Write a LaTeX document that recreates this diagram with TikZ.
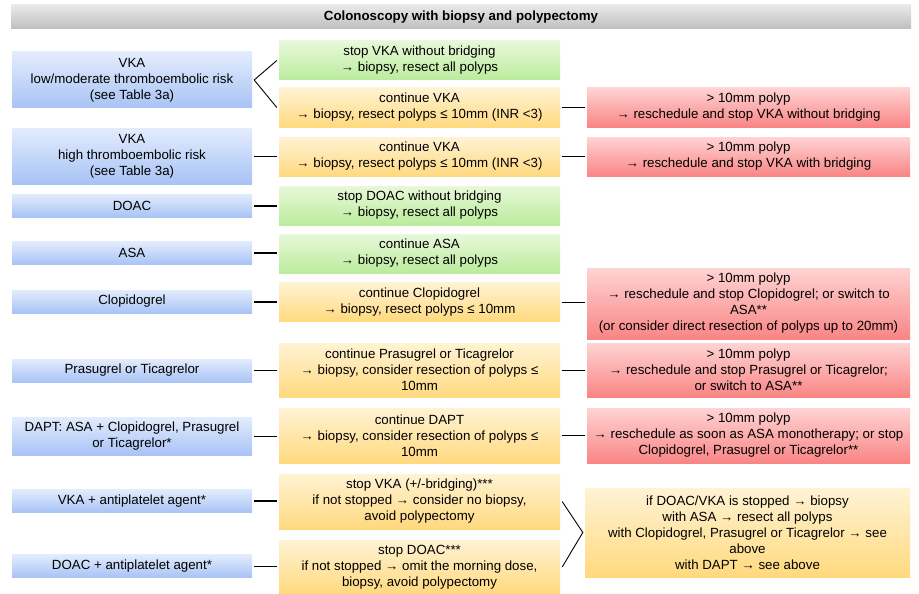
\documentclass[tikz,border=0pt]{standalone}
\usepackage{fontspec}
\setmainfont{Liberation Sans}
\usetikzlibrary{calc}
\definecolor{titletop}{HTML}{E9E9E9}
\definecolor{titlebot}{HTML}{BEBEBE}
\definecolor{bluetop}{HTML}{E3ECFD}
\definecolor{bluebot}{HTML}{A8C3F5}
\definecolor{greentop}{HTML}{E8F8DA}
\definecolor{greenbot}{HTML}{BAEC9C}
\definecolor{orangetop}{HTML}{FFF3D4}
\definecolor{orangebot}{HTML}{FFD97E}
\definecolor{redtop}{HTML}{FFD3D3}
\definecolor{redbot}{HTML}{F98585}

\begin{document}
\begin{tikzpicture}[
    x=1pt, y=-1pt,
    box/.style={minimum height=39pt, align=center, inner sep=2pt, font=\fontsize{13.3}{16}\selectfont},
    drug/.style={box, top color=bluetop, bottom color=bluebot, minimum width=240pt},
    stopbox/.style={box, top color=greentop, bottom color=greenbot, minimum width=281pt},
    contbox/.style={box, top color=orangetop, bottom color=orangebot, minimum width=281pt},
    alertbox/.style={box, top color=redtop, bottom color=redbot, minimum width=323pt},
    headbox/.style={box, top color=titletop, bottom color=titlebot, minimum width=900pt, minimum height=24pt, font=\fontsize{13.3}{16}\selectfont\bfseries},
    link/.style={line width=0.9pt},
    boldlink/.style={line width=2pt},
]
\useasboundingbox (0,0) rectangle (919,594);

% --- Title ---
\node[headbox] (title) at (461,17) {Colonoscopy with biopsy and polypectomy};

% --- Medication ---
\node[drug, minimum height=56pt] (vkalow) at (132,80) {VKA\\low/moderate thromboembolic risk\\(see Table 3a)};
\node[drug, minimum height=56pt] (vkahigh) at (132,156) {VKA\\high thromboembolic risk\\(see Table 3a)};
\node[drug, minimum height=23pt] (doac) at (132,205.5) {DOAC};
\node[drug, minimum height=23pt] (asa) at (132,253) {ASA};
\node[drug, minimum height=23pt] (clop) at (132,301.5) {Clopidogrel};
\node[drug, minimum height=23pt] (prasu) at (132,370.5) {Prasugrel or Ticagrelor};
\node[drug, minimum height=38pt] (dapt) at (132,436) {DAPT: ASA + Clopidogrel, Prasugrel\\or Ticagrelor*};
\node[drug, minimum height=23pt] (vkaplus) at (132,501) {VKA + antiplatelet agent*};
\node[drug, minimum height=23pt] (doacplus) at (132,566) {DOAC + antiplatelet agent*};

% --- Management ---
\node[stopbox] (stopvka) at (419.5,60.5) {stop VKA without bridging\\→ biopsy, resect all polyps};
\node[contbox] (contvka) at (419.5,107.5) {continue VKA\\→ biopsy, resect polyps ≤ 10mm (INR <3)};
\node[contbox] (contvkah) at (419.5,156.5) {continue VKA\\→ biopsy, resect polyps ≤ 10mm (INR <3)};
\node[stopbox] (stopdoac) at (419.5,205.5) {stop DOAC without bridging\\→ biopsy, resect all polyps};
\node[stopbox] (contasa) at (419.5,253.5) {continue ASA\\→ biopsy, resect all polyps};
\node[contbox] (contclop) at (419.5,302) {continue Clopidogrel\\→ biopsy, resect polyps ≤ 10mm};
\node[contbox, minimum height=54pt] (contprasu) at (419.5,370) {continue Prasugrel or Ticagrelor\\→ biopsy, consider resection of polyps ≤\\10mm};
\node[contbox, minimum height=55pt] (contdapt) at (419.5,435.5) {continue DAPT\\→ biopsy, consider resection of polyps ≤\\10mm};
\node[contbox, minimum height=55pt] (stopvkap) at (419.5,501.5) {stop VKA (+/-bridging)***\\if not stopped → consider no biopsy,\\avoid polypectomy};
\node[contbox, minimum height=54pt] (stopdoacp) at (419.5,567) {stop DOAC***\\if not stopped → omit the morning dose,\\biopsy, avoid polypectomy};

% --- Large polyps ---
\node[alertbox] (bigvka) at (748.5,107.5) {> 10mm polyp\\→ reschedule and stop VKA without bridging};
\node[alertbox] (bigvkah) at (748.5,156.5) {> 10mm polyp\\→ reschedule and stop VKA with bridging};
\node[alertbox, minimum height=71pt] (bigclop) at (748.5,303.5) {> 10mm polyp\\→ reschedule and stop Clopidogrel; or switch to\\ASA**\\(or consider direct resection of polyps up to 20mm)};
\node[alertbox, minimum height=54pt] (bigprasu) at (748.5,370) {> 10mm polyp\\→ reschedule and stop Prasugrel or Ticagrelor;\\or switch to ASA**};
\node[alertbox, minimum height=55pt] (bigdapt) at (748.5,435.5) {> 10mm polyp\\→ reschedule as soon as ASA monotherapy; or stop\\Clopidogrel, Prasugrel or Ticagrelor**};
\node[contbox, minimum width=325pt, minimum height=89pt] (combined) at (747.5,532.5) {if DOAC/VKA is stopped → biopsy\\with ASA → resect all polyps\\with Clopidogrel, Prasugrel or Ticagrelor → see\\above\\with DAPT → see above};

% --- Connectors ---
\draw[link] ([xshift=-2pt]stopvka.west) -- ([xshift=2pt]vkalow.east) -- ([xshift=-2pt]contvka.west);
\draw[link] ([xshift=2pt]vkahigh.east) -- ([xshift=-2pt]vkahigh.east -| contvkah.west);
\draw[boldlink] ([xshift=2pt]doac.east) -- ([xshift=-2pt]doac.east -| stopdoac.west);
\draw[boldlink] ([xshift=2pt]asa.east) -- ([xshift=-2pt]asa.east -| contasa.west);
\draw[boldlink] ([xshift=2pt]clop.east) -- ([xshift=-2pt]clop.east -| contclop.west);
\draw[link] ([xshift=2pt]prasu.east) -- ([xshift=-2pt]prasu.east -| contprasu.west);
\draw[link] ([xshift=2pt]dapt.east) -- ([xshift=-2pt]dapt.east -| contdapt.west);
\draw[boldlink] ([xshift=2pt]vkaplus.east) -- ([xshift=-2pt]vkaplus.east -| stopvkap.west);
\draw[link] ([xshift=2pt]doacplus.east) -- ([xshift=-2pt]doacplus.east -| stopdoacp.west);

\draw[link] ([xshift=2pt]contvka.east) -- ([xshift=-2pt]bigvka.west);
\draw[link] ([xshift=2pt]contvkah.east) -- ([xshift=-2pt]bigvkah.west);
\draw[link] ([xshift=2pt]contclop.east) -- ([xshift=-2pt]contclop.east -| bigclop.west);
\draw[link] ([xshift=2pt]contprasu.east) -- ([xshift=-2pt]bigprasu.west);
\draw[link] ([xshift=2pt]contdapt.east) -- ([xshift=-2pt]bigdapt.west);
\draw[link] ([xshift=2pt]stopvkap.east) -- ([xshift=-2pt]combined.west) -- ([xshift=2pt]stopdoacp.east);

\end{tikzpicture}
\end{document}
